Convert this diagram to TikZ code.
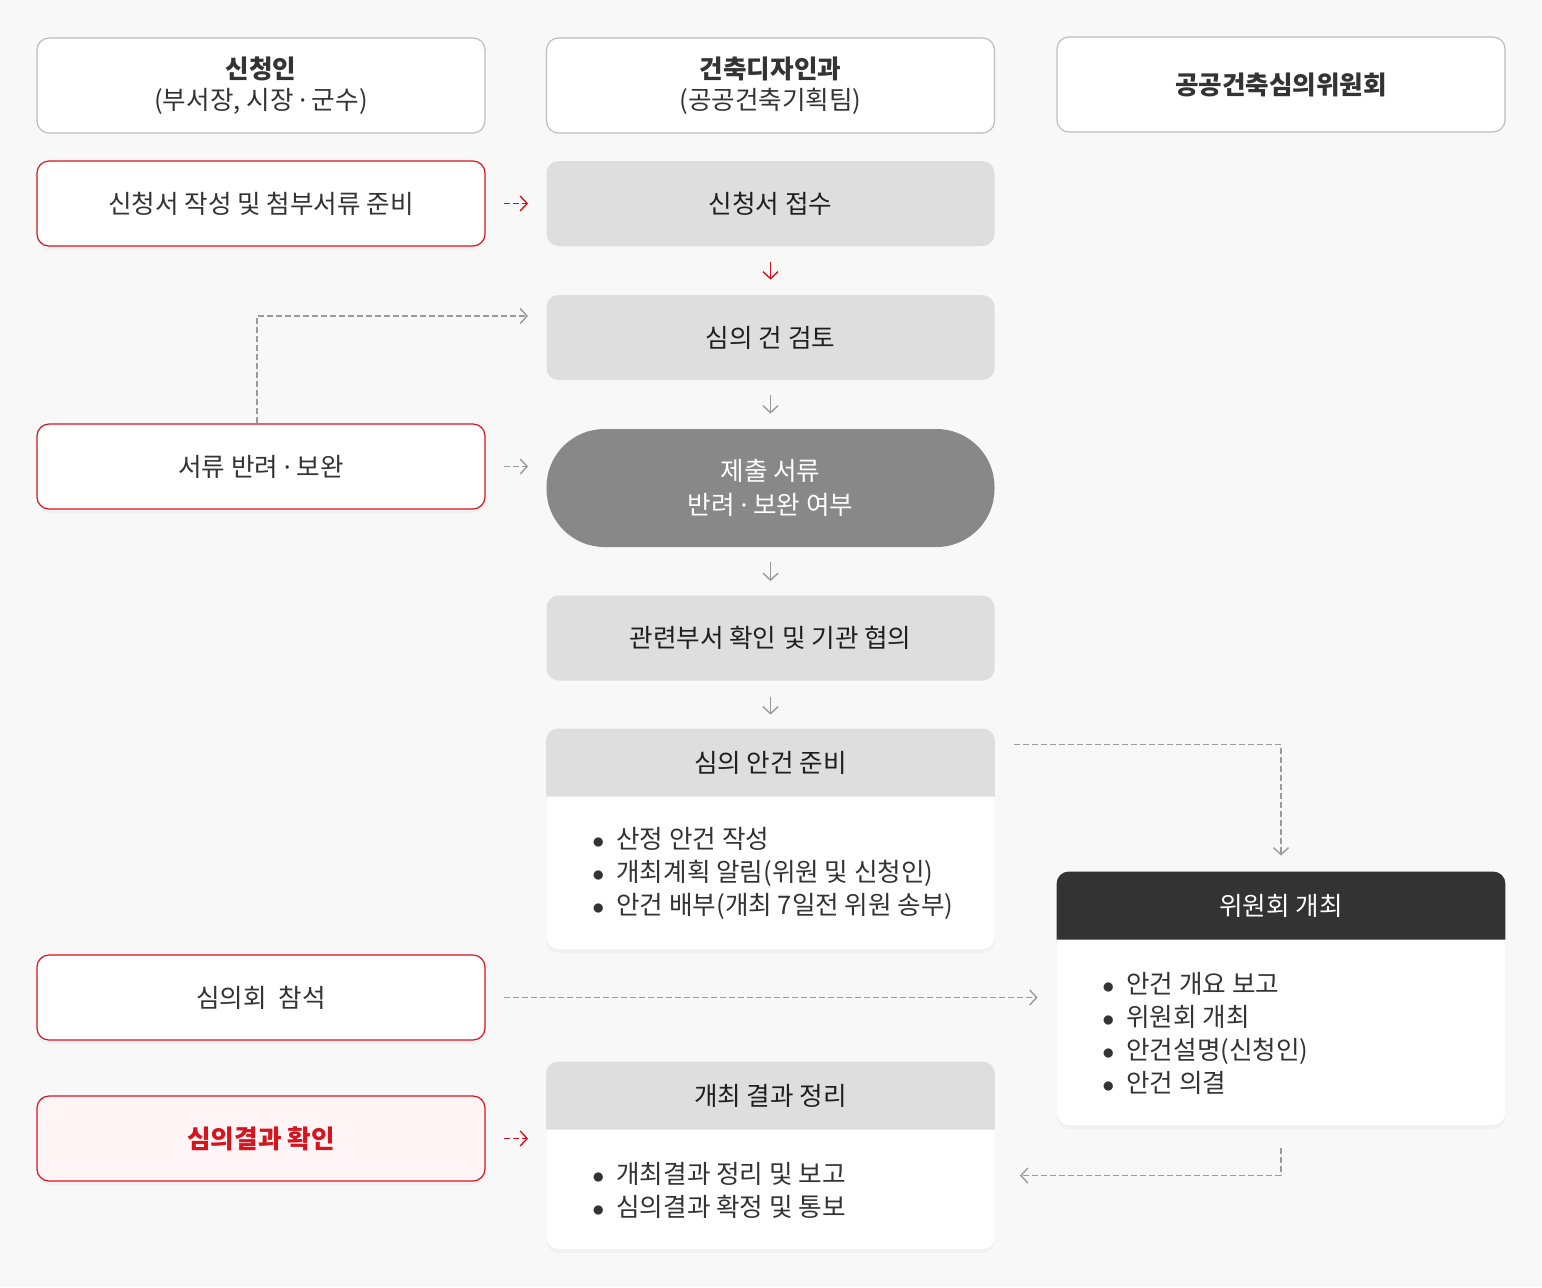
\documentclass[tikz,border=0pt]{standalone}
\usepackage{fontspec}
\setmainfont{Noto Sans CJK KR}
\newfontfamily\latinf{Noto Sans}
\usepackage{xcolor}
\usetikzlibrary{positioning, arrows.meta, shadows}

\definecolor{bgGray}{HTML}{F8F8F8}
\definecolor{boxGray}{HTML}{DEDEDE}
\definecolor{pillGray}{HTML}{888888}
\definecolor{darkHead}{HTML}{333333}
\definecolor{txtGray}{HTML}{333333}
\definecolor{lineGray}{HTML}{9A9A9A}
\definecolor{edgeGray}{HTML}{BDBDBD}
\definecolor{mainRed}{HTML}{D7141E}
\definecolor{paleRed}{HTML}{FFF5F6}

\newcommand{\itm}{\makebox[12pt][l]{\fontsize{12}{12}\selectfont$\bullet$}}
\newcommand{\mdot}{\ {\latinf·}\ }

\begin{document}
\begin{tikzpicture}[x=0.5pt, y=-0.5pt,
	font=\fontsize{12.8}{15.5}\selectfont, text=txtGray,
	soft/.style={drop shadow={opacity=0.05, shadow xshift=0pt, shadow yshift=-2pt}},
	box/.style={rectangle, rounded corners=6pt, minimum width=224pt, minimum height=42.5pt, inner sep=0pt, align=center},
	head/.style={box, draw=edgeGray, fill=white, minimum height=47.5pt, line width=0.6pt},
	redbox/.style={box, draw=mainRed, fill=white, line width=0.6pt, soft},
	graybox/.style={box, fill=boxGray, text=black!88},
	panel/.style={box, fill=white, soft},
	list/.style={inner sep=0pt, align=left, anchor=west, font=\fontsize{12.8}{16.5}\selectfont},
	dashline/.style={draw=lineGray, line width=0.7pt, dash pattern=on 3pt off 1.5pt, -{Straight Barb[length=3.5pt,width=7.5pt]}},
	tipline/.style={draw=lineGray, line width=0.7pt, -{Straight Barb[length=3.5pt,width=7.5pt]}},
]
	\fill[bgGray] (0,0) rectangle (1542,1287);
	\useasboundingbox (0,0) rectangle (1542,1287);

	% column heads
	\node[head] (hApp) at (261,85.5) {\textbf{신청인}\\(부서장, 시장\mdot 군수)};
	\node[head] (hDept) at (770.5,85.5) {\textbf{건축디자인과}\\(공공건축기획팀)};
	\node[head] (hCom) at (1281,84.5) {\textbf{공공건축심의위원회}};

	% applicant side
	\node[redbox] (apply) at (261,203.5) {신청서 작성 및 첨부서류 준비};
	\node[redbox] (ret) at (261,466.5) {서류 반려\mdot 보완};
	\node[redbox] (attend) at (261,997.5) {심의회~~참석};
	\node[redbox, fill=paleRed, text=mainRed] (confirm) at (261,1138.5) {\textbf{심의결과 확인}};

	% department side
	\node[graybox] (recv) at (770.5,203.5) {신청서 접수};
	\node[graybox] (review) at (770.5,337.5) {심의 건 검토};
	\node[box, fill=pillGray, text=white, rounded corners=29pt, minimum height=59pt] (decide) at (770.5,488) {제출 서류\\[1.5pt]반려\mdot 보완 여부};
	\node[graybox] (consult) at (770.5,638) {관련부서 확인 및 기관 협의};

	\node[panel, minimum height=110pt] (prep) at (770.5,839) {};
	\fill[boxGray, rounded corners=6pt] ([yshift=-34pt]prep.north west) -- (prep.north west) -- (prep.north east) [sharp corners] -- ([yshift=-34pt]prep.north east) -- cycle;
	\node[text=black!88] (prepT) at ([yshift=-17pt]prep.north) {심의 안건 준비};
	\node[list] (prepL) at (592,873.5) {\itm 산정 안건 작성\\ \itm 개최계획 알림(위원 및 신청인)\\ \itm 안건 배부(개최 7일전 위원 송부)};

	\node[panel, minimum height=93.5pt] (summ) at (770.5,1155.5) {};
	\fill[boxGray, rounded corners=6pt] ([yshift=-34pt]summ.north west) -- (summ.north west) -- (summ.north east) [sharp corners] -- ([yshift=-34pt]summ.north east) -- cycle;
	\node[text=black!88] (summT) at ([yshift=-17pt]summ.north) {개최 결과 정리};
	\node[list] (summL) at (592,1190.5) {\itm 개최결과 정리 및 보고\\ \itm 심의결과 확정 및 통보};

	% committee side
	\node[panel, minimum height=126.5pt] (meet) at (1281,998.5) {};
	\fill[darkHead, rounded corners=6pt] ([yshift=-34pt]meet.north west) -- (meet.north west) -- (meet.north east) [sharp corners] -- ([yshift=-34pt]meet.north east) -- cycle;
	\node[text=white] (meetT) at ([yshift=-17pt]meet.north) {위원회 개최};
	\node[list] (meetL) at (1102,1033.5) {\itm 안건 개요 보고\\ \itm 위원회 개최\\ \itm 안건설명(신청인)\\ \itm 안건 의결};

	% flow
	\draw[dashline, draw=mainRed] ([xshift=9pt]apply.east) -- ([xshift=-9pt]recv.west);
	\draw[tipline, draw=mainRed] ([yshift=-8pt]recv.south) -- ([yshift=7.5pt]review.north);
	\draw[tipline] ([yshift=-7.5pt]review.south) -- ([yshift=7.5pt]decide.north);
	\draw[tipline] ([yshift=-7.5pt]decide.south) -- ([yshift=7pt]consult.north);
	\draw[tipline] ([yshift=-8pt]consult.south) -- ([yshift=7pt]prep.north);
	\draw[dashline] ([xshift=9pt]ret.east) -- ([xshift=-9pt]decide.west |- ret.east);
	\draw[dashline] ([xshift=-2pt]ret.north) |- ([xshift=-9pt,yshift=10.75pt]review.west);
	\draw[dashline] ([xshift=9.5pt,yshift=-8pt]prep.north east) -| ([yshift=8pt]meet.north);
	\draw[dashline] ([xshift=9pt]attend.east) -- ([xshift=-9.5pt]meet.west |- attend.east);
	\draw[dashline, draw=mainRed] ([xshift=9pt]confirm.east) -- ([xshift=-9pt]summ.west |- confirm.east);
	\draw[dashline] ([yshift=-11.5pt]meet.south) |- ([xshift=12.5pt,yshift=-10pt]summ.east);
\end{tikzpicture}
\end{document}
